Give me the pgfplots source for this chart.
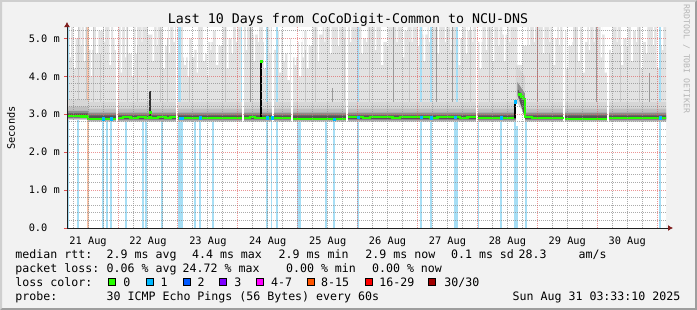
\documentclass[border=0pt]{standalone}
\usepackage{pgfplots}
\pgfplotsset{compat=1.18}
\usepackage{pgfplotstable}
\usepackage{fontspec}
\setmainfont{DejaVu Sans Mono}
\usetikzlibrary{arrows.meta}
\definecolor{bgc}{HTML}{F2F2F2}
\definecolor{shadeA}{HTML}{CFCFCF}
\definecolor{shadeB}{HTML}{9E9E9E}
\definecolor{gridc}{HTML}{8F8F8F}
\definecolor{mgridc}{HTML}{DE4F4F}
\definecolor{arrowc}{HTML}{801F1F}
\definecolor{axisc}{HTML}{1F1F1F}
\definecolor{smokeL}{HTML}{E2E2E2}
\definecolor{smokeT}{HTML}{C8C8C8}
\definecolor{smokeD}{HTML}{9A9A9A}
\definecolor{band1}{HTML}{D6D6D6}
\definecolor{band2}{HTML}{BEBEBE}
\definecolor{band3}{HTML}{8E8E8E}
\definecolor{band4}{HTML}{555555}
\definecolor{lossline}{HTML}{A6DEF5}
\definecolor{orangeline}{HTML}{F9C3A8}
\definecolor{l0}{HTML}{26FF00}
\definecolor{l1}{HTML}{00B8FF}
\definecolor{l2}{HTML}{0059FF}
\definecolor{l3}{HTML}{7E00FF}
\definecolor{l4}{HTML}{FF00FF}
\definecolor{l8}{HTML}{FF5500}
\definecolor{l16}{HTML}{FF0000}
\definecolor{l30}{HTML}{A10000}
\definecolor{wm}{HTML}{B5B5B5}
\newcommand\legfont{\fontsize{11.6}{14}\selectfont}
\newcommand\tickfont{\fontsize{10.3}{12}\selectfont}
\newcommand\titfont{\fontsize{13.3}{16}\selectfont}

% light smoke: hours since 21 Aug 00:00, top of smoke (s)
\pgfplotstableread{
x y
2 2.95
2 5.35
4 5.35
6 5.0
8 5.35
10 5.35
12 4.7
14 5.35
16 5.2
18 5.35
20 5.35
22 5.0
24 5.35
26 5.35
28 4.6
30 5.35
32 5.35
34 5.35
36 5.1
38 5.35
40 5.35
42 4.8
44 5.35
46 5.3
48 5.35
50 4.5
52 5.0
54 4.7
56 5.35
58 4.6
60 4.9
62 5.2
64 4.8
66 5.35
68 5.0
70 5.35
72 5.35
74 5.35
76 5.35
78 5.1
80 5.35
82 4.9
84 5.3
86 4.7
88 5.2
90 4.6
92 5.0
94 4.5
96 4.9
98 5.2
100 4.8
102 5.35
104 5.1
106 5.35
108 5.35
110 5.35
112 5.35
114 5.35
116 5.3
118 5.35
120 5.35
122 5.0
124 5.35
126 5.35
128 5.35
130 4.9
132 5.35
134 5.35
136 5.35
138 5.2
140 5.35
142 5.35
144 5.35
146 5.1
148 5.35
150 5.35
152 5.3
154 5.35
156 5.35
158 5.35
160 5.0
162 5.35
164 5.2
166 5.35
168 4.9
170 5.35
172 5.35
174 5.3
176 5.35
178 5.1
180 5.35
182 5.35
184 4.3
186 4.8
188 5.35
190 5.35
192 5.35
194 5.35
196 5.35
198 5.0
200 5.35
202 5.2
204 4.8
206 5.35
208 5.3
210 4.9
212 5.35
214 5.35
216 5.35
218 5.1
220 4.7
222 5.35
224 5.35
226 5.0
228 5.35
230 5.2
232 5.35
234 4.9
236 5.35
238 5.35
240 4.8
242 5.35
244 5.35
244 2.95
}\smoke

% white streaks in the smoke: path along the top, dipping down to the streak bottom
\pgfplotstableread{
x y
3.55 5.4
4.6 5.4
4.6 4.5
5.1 4.5
5.1 5.4
6.2 5.4
6.2 4.2
7.0 4.2
7.0 5.4
9.0 5.4
9.0 4.8
9.4 4.8
9.4 5.4
10.3 5.4
10.3 4.4
10.9 4.4
10.9 5.4
13.0 5.4
13.0 4.0
13.5 4.0
13.5 5.4
15.2 5.4
15.2 4.6
16.1 4.6
16.1 5.4
18.4 5.4
18.4 4.9
18.8 4.9
18.8 5.4
20.5 5.4
20.5 4.3
21.2 4.3
21.2 5.4
22.6 5.4
22.6 4.7
23.1 4.7
23.1 5.4
25.0 5.4
25.0 4.1
25.6 4.1
25.6 5.4
26.8 5.4
26.8 4.5
27.2 4.5
27.2 5.4
29.5 5.4
29.5 4.0
30.3 4.0
30.3 5.4
31.0 5.4
31.0 4.6
31.5 4.6
31.5 5.4
33.4 5.4
33.4 4.9
33.8 4.9
33.8 5.4
37.8 5.4
37.8 4.4
38.5 4.4
38.5 5.4
39.5 5.4
39.5 4.8
39.9 4.8
39.9 5.4
42.0 5.4
42.0 4.2
42.9 4.2
42.9 5.4
44.4 5.4
44.4 4.6
44.9 4.6
44.9 5.4
46.2 5.4
46.2 4.9
46.8 4.9
46.8 5.4
50.4 5.4
50.4 4.3
51.2 4.3
51.2 5.4
51.9 5.4
51.9 4.0
52.4 4.0
52.4 5.4
53.6 5.4
53.6 4.5
54.6 4.5
54.6 5.4
55.5 5.4
55.5 4.1
56.0 4.1
56.0 5.4
58.0 5.4
58.0 4.4
58.9 4.4
58.9 5.4
59.6 5.4
59.6 4.0
60.2 4.0
60.2 5.4
61.0 5.4
61.0 4.7
61.4 4.7
61.4 5.4
63.2 5.4
63.2 4.3
64.2 4.3
64.2 5.4
65.3 5.4
65.3 4.8
65.8 4.8
65.8 5.4
67.5 5.4
67.5 4.2
68.3 4.2
68.3 5.4
69.5 5.4
69.5 4.6
70.0 4.6
70.0 5.4
71.2 5.4
71.2 4.9
71.8 4.9
71.8 5.4
75.2 5.4
75.2 4.7
75.7 4.7
75.7 5.4
78.3 5.4
78.3 4.4
78.9 4.4
78.9 5.4
80.0 5.4
80.0 4.9
80.4 4.9
80.4 5.4
82.4 5.4
82.4 4.2
83.2 4.2
83.2 5.4
84.6 5.4
84.6 4.6
85.1 4.6
85.1 5.4
88.5 5.4
88.5 4.1
89.4 4.1
89.4 5.4
90.2 5.4
90.2 4.4
90.8 4.4
90.8 5.4
91.8 5.4
91.8 3.9
92.8 3.9
92.8 5.4
94.8 5.4
94.8 4.3
95.4 4.3
95.4 5.4
96.6 5.4
96.6 4.0
97.5 4.0
97.5 5.4
98.0 5.4
98.0 4.5
98.5 4.5
98.5 5.4
99.6 5.4
99.6 4.2
100.4 4.2
100.4 5.4
101.4 5.4
101.4 4.8
101.9 4.8
101.9 5.4
104.0 5.4
104.0 4.4
104.6 4.4
104.6 5.4
106.7 5.4
106.7 4.9
107.1 4.9
107.1 5.4
109.0 5.4
109.0 4.6
109.6 4.6
109.6 5.4
112.2 5.4
112.2 4.8
112.6 4.8
112.6 5.4
117.0 5.4
117.0 4.9
117.5 4.9
117.5 5.4
121.5 5.4
121.5 4.6
122.1 4.6
122.1 5.4
123.4 5.4
123.4 4.9
123.8 4.9
123.8 5.4
127.0 5.4
127.0 4.7
127.5 4.7
127.5 5.4
129.4 5.4
129.4 4.3
130.3 4.3
130.3 5.4
131.8 5.4
131.8 4.8
132.2 4.8
132.2 5.4
135.5 5.4
135.5 4.9
136.0 4.9
136.0 5.4
138.0 5.4
138.0 4.5
138.7 4.5
138.7 5.4
141.6 5.4
141.6 4.9
142.0 4.9
142.0 5.4
144.2 5.4
144.2 4.8
144.7 4.8
144.7 5.4
146.3 5.4
146.3 4.4
147.1 4.4
147.1 5.4
148.5 5.4
148.5 4.9
148.9 4.9
148.9 5.4
152.0 5.4
152.0 4.6
152.6 4.6
152.6 5.4
155.0 5.4
155.0 4.9
155.4 4.9
155.4 5.4
157.2 5.4
157.2 4.7
157.7 4.7
157.7 5.4
160.4 5.4
160.4 4.3
161.2 4.3
161.2 5.4
163.4 5.4
163.4 4.6
164.0 4.6
164.0 5.4
166.0 5.4
166.0 4.9
166.4 4.9
166.4 5.4
168.8 5.4
168.8 4.2
169.7 4.2
169.7 5.4
171.4 5.4
171.4 4.7
171.9 4.7
171.9 5.4
174.0 5.4
174.0 4.4
174.8 4.4
174.8 5.4
176.4 5.4
176.4 4.8
176.9 4.8
176.9 5.4
178.6 5.4
178.6 4.4
179.3 4.4
179.3 5.4
180.8 5.4
180.8 4.9
181.2 4.9
181.2 5.4
188.6 5.4
188.6 4.8
189.1 4.8
189.1 5.4
190.6 5.4
190.6 4.9
191.0 4.9
191.0 5.4
194.2 5.4
194.2 4.6
194.8 4.6
194.8 5.4
196.8 5.4
196.8 4.9
197.2 4.9
197.2 5.4
198.4 5.4
198.4 4.3
199.2 4.3
199.2 5.4
200.6 5.4
200.6 4.8
201.1 4.8
201.1 5.4
203.6 5.4
203.6 4.2
204.4 4.2
204.4 5.4
205.8 5.4
205.8 4.9
206.2 4.9
206.2 5.4
208.3 5.4
208.3 4.4
209.0 4.4
209.0 5.4
210.0 5.4
210.0 4.1
211.0 4.1
211.0 5.4
212.6 5.4
212.6 4.7
213.1 4.7
213.1 5.4
214.6 5.4
214.6 4.9
215.0 4.9
215.0 5.4
217.4 5.4
217.4 4.5
218.0 4.5
218.0 5.4
219.0 5.4
219.0 4.1
219.9 4.1
219.9 5.4
221.6 5.4
221.6 4.6
222.1 4.6
222.1 5.4
223.8 5.4
223.8 4.9
224.2 4.9
224.2 5.4
225.6 5.4
225.6 4.3
226.5 4.3
226.5 5.4
227.8 5.4
227.8 4.8
228.3 4.8
228.3 5.4
229.6 5.4
229.6 4.4
230.3 4.4
230.3 5.4
231.6 5.4
231.6 4.9
232.0 4.9
232.0 5.4
233.6 5.4
233.6 4.2
234.4 4.2
234.4 5.4
235.6 5.4
235.6 4.6
236.1 4.6
236.1 5.4
238.4 5.4
238.4 4.8
238.8 4.8
238.8 5.4
239.8 5.4
239.8 4.2
240.7 4.2
240.7 5.4
242.0 5.4
242.0 4.7
242.5 4.7
242.5 5.4
244 5.4
}\streaks

% median rtt (s)
\pgfplotstableread{
x y
3.55 2.95
6 2.95
9 2.94
12 2.88
14 2.87
17 2.88
19 2.87
21 2.88
23.3 2.88
23.6 nan
23.9 2.91
26 2.92
29 2.91
32 2.92
35 2.91
36.5 2.93
37.2 2.91
40 2.92
43 2.91
45 2.92
47.3 2.92
47.6 nan
47.9 2.90
51 2.91
54 2.90
57 2.91
60 2.90
63 2.91
66 2.90
69 2.91
71 2.90
73.8 2.90
74.1 nan
74.4 2.91
77 2.92
79 2.91
81 2.90
83 2.91
85.8 2.91
86.1 nan
86.4 2.90
89 2.91
91 2.90
93.4 2.90
93.7 nan
94 2.88
97 2.87
100 2.88
103 2.87
106 2.88
109 2.87
112 2.88
115.4 2.88
115.7 nan
116 2.92
119 2.92
122 2.91
125 2.92
128 2.93
131 2.92
134 2.91
137 2.93
140 2.92
143 2.93
146 2.92
149 2.91
152 2.92
155 2.93
158 2.92
161 2.91
164 2.92
167.5 2.92
167.8 nan
168.1 2.90
171 2.91
174 2.90
177 2.91
180 2.90
182.8 2.90
183.2 nan
184.4 3.52
185.6 3.47
186.4 3.40
187.0 2.92
190 2.90
193 2.91
196 2.90
199 2.91
202.4 2.90
202.7 nan
203 2.88
206 2.87
209 2.88
212 2.87
215 2.88
218 2.88
220 2.88
220.3 nan
220.6 2.90
223 2.91
226 2.90
229 2.91
232 2.90
235 2.91
238 2.90
241 2.91
243.55 2.90
}\median

\begin{document}
\begin{tikzpicture}
\fill[bgc] (0pt,0pt) rectangle (697pt,-310pt);
\fill[shadeA] (0pt,0pt) -- (697pt,0pt) -- (695pt,-2pt) -- (2pt,-2pt) -- (2pt,-308pt) -- (0pt,-310pt) -- cycle;
\fill[shadeB] (697pt,0pt) -- (697pt,-310pt) -- (0pt,-310pt) -- (2pt,-308pt) -- (695pt,-308pt) -- (695pt,-2pt) -- cycle;
\begin{axis}[
  at={(67pt,-228pt)}, anchor=south west,
  scale only axis, width=599pt, height=201pt,
  xmin=3.55, xmax=243.55, ymin=0, ymax=5.3,
  axis background/.style={fill=white},
  axis on top, unbounded coords=jump,
  axis x line*=bottom, axis y line*=left,
  x axis line style={color=axisc, line width=1pt, -{Latex[length=5pt,width=6pt,color=arrowc,fill=arrowc]}, shorten >=-7pt},
  y axis line style={color=axisc, line width=1pt, -{Latex[length=5pt,width=6pt,color=arrowc,fill=arrowc]}, shorten >=-5pt},
  xtick={12,36,60,84,108,132,156,180,204,228},
  xticklabels={21 Aug,22 Aug,23 Aug,24 Aug,25 Aug,26 Aug,27 Aug,28 Aug,29 Aug,30 Aug},
  xmajorgrids=false, xminorgrids=true,
  minor xtick={6,12,18,30,36,42,54,60,66,78,84,90,102,108,114,126,132,138,150,156,162,174,180,186,198,204,210,222,228,234},
  extra x ticks={24,48,72,96,120,144,168,192,216,240},
  extra x tick labels={},
  extra x tick style={grid=major},
  ytick={0,1,2,3,4,5},
  yticklabels={0.0\phantom{\ m},1.0 m,2.0 m,3.0 m,4.0 m,5.0 m},
  minor ytick={0.2,0.4,0.6,0.8,1.2,1.4,1.6,1.8,2.2,2.4,2.6,2.8,3.2,3.4,3.6,3.8,4.2,4.4,4.6,4.8,5.2},
  ymajorgrids=true, yminorgrids=true,
  minor grid style={draw=gridc, draw opacity=0.75, line width=1pt, dash pattern=on 1pt off 1pt},
  major grid style={draw=mgridc, draw opacity=0.6, line width=1pt, dash pattern=on 1pt off 1pt},
  xtick style={draw=none},
  ytick style={draw=mgridc, line width=1pt},
  major tick length=3pt, minor tick length=0pt, tick align=outside,
  xticklabel style={font=\tickfont, inner sep=0pt, anchor=north, yshift=-6pt},
  yticklabel style={font=\tickfont, inner sep=0pt, anchor=east, xshift=-4pt},
]
% light smoke
\addplot[const plot mark left, fill=smokeL, draw=none] table {\smoke};
\addplot[fill=white, draw=none] table {\streaks};
% loss lines visible through the smoke
\addplot[ycomb, draw=lossline, line width=1.3pt] coordinates {
 (3.9,5.3)(48.02,5.3)(48.82,5.3)(73.66,5.3)(83.68,5.3)(87.68,5.3)(120.14,5.3)
 (145.38,5.3)(149.39,5.3)(159.8,5.3)(241.13,5.3)};
\addplot[ycomb, draw=orangeline, line width=1.3pt] coordinates {(11.96,5.3)};
% smoke texture lines
\addplot[ycomb, draw=smokeT, line width=0.9pt] coordinates {
 (7.96,5.3)(11.2,5.3)(13.97,5.3)(16.77,4.6)(27.59,5.3)(31.6,4.8)(40.8,5.3)
 (43.6,5.0)(52.8,4.4)(66.85,5.3)(98.9,4.7)(102.9,5.3)(114.9,5.0)(124.9,5.3)
 (140.9,4.9)(165.0,5.3)(173.0,5.3)(197.0,4.6)(207.1,5.3)(225.1,4.8)(233.1,5.3)};
\addplot[ycomb, draw=smokeD, line width=1pt] coordinates {
 (76.9,5.3)(110.1,3.7)(134.2,5.3)(151.4,5.3)(158.2,5.3)(191.9,5.3)(215.9,5.3)(237.1,4.1)};
% clear the region below the smoke
\addplot[fill=white, draw=none] coordinates {(0,0)(0,2.9)(250,2.9)(250,0)};
% loss lines (lower part)
\addplot[ycomb, draw=lossline, line width=1.3pt] coordinates {
 (3.9,2.85)(7.96,2.85)(17.97,2.85)(19.57,2.85)(21.18,2.85)(27.19,2.85)(34.0,2.85)
 (35.2,2.85)(41.61,2.85)(48.02,2.85)(48.42,2.85)(48.82,2.85)(49.22,2.85)(49.62,2.85)
 (54.83,2.85)(56.84,2.85)
 (62.04,2.85)(83.68,2.85)(85.68,2.85)(87.68,2.85)(96.10,2.85)(96.90,2.85)(107.32,2.85)
 (110.52,2.85)(120.14,2.85)(145.38,2.85)(149.39,2.85)(159.0,2.85)(159.4,2.85)(159.8,2.85)
 (168.21,2.85)(177.43,2.85)(183.04,2.85)(183.44,2.85)(183.84,2.85)(187.45,2.85)(241.13,2.85)};
\addplot[ycomb, draw=orangeline, line width=1.3pt] coordinates {(11.96,2.85)};
% dense band around the median
\addplot[fill=band1, draw=none] coordinates {(0,3.37)(12,3.37)(12,3.32)(250,3.32)(250,2.80)(12,2.80)(12,2.85)(0,2.85)};
\addplot[fill=band2, draw=none] coordinates {(0,3.20)(12,3.20)(12,3.15)(250,3.15)(250,2.82)(12,2.82)(12,2.87)(0,2.87)};
\addplot[fill=band3, draw=none] coordinates {(0,3.09)(12,3.09)(12,3.04)(250,3.04)(250,2.84)(12,2.84)(12,2.89)(0,2.89)};
\addplot[fill=band4, draw=none] coordinates {(0,3.02)(12,3.02)(12,2.97)(250,2.97)(250,2.87)(12,2.87)(12,2.92)(0,2.92)};
% 28 Aug excursion
\addplot[fill=white, draw=none] coordinates {(183.4,2.7)(183.4,3.35)(187.0,3.35)(187.0,2.7)};
\addplot[fill=band1, draw=none] coordinates {(183.4,3.35)(183.4,4.3)(187.0,4.0)(187.0,3.0)};
\addplot[fill=band3, draw=none] coordinates {(184.0,3.5)(184.0,3.85)(187.0,3.55)(187.0,2.95)};
\addplot[fill=band4, draw=none] coordinates {(184.2,3.5)(184.2,3.65)(186.8,3.45)(186.8,2.95)};
% gaps without data
\addplot[ycomb, draw=white, line width=1.6pt] coordinates {
 (23.58,5.3)(47.62,5.3)(74.06,5.3)(86.08,5.3)(93.70,5.3)(115.73,5.3)(167.81,5.3)(202.67,5.3)(220.3,5.3)};
% dark spikes
\addplot[fill=black!80, draw=none] coordinates {(36.55,2.9)(36.55,3.6)(37.05,3.6)(37.05,2.9)};
\addplot[fill=black, draw=none] coordinates {(80.85,2.9)(80.85,4.4)(81.7,4.4)(81.7,2.9)};
\addplot[fill=black, draw=none] coordinates {(182.6,2.9)(182.6,3.35)(183.3,3.35)(183.3,2.9)};
% median rtt
\addplot[const plot mark left, draw=l0, line width=2.2pt] table {\median};
\addplot[only marks, mark=square*, mark size=1.1pt, color=l0] coordinates {(81.27,4.40)(36.8,3.05)};
\addplot[only marks, mark=square*, mark size=1.1pt, color=l1] coordinates {
 (17.97,2.88)(21.18,2.88)(48.82,2.90)(49.62,2.90)(56.84,2.91)(83.68,2.91)(85.68,2.91)
 (110.52,2.87)(120.14,2.92)(145.38,2.92)(149.39,2.91)(159.0,2.92)(177.43,2.91)(183.04,3.33)(241.13,2.91)};
\end{axis}
\begin{scope}[x=1pt,y=-1pt]
\node[font=\titfont, anchor=base, inner sep=0pt] at (348,24) {Last 10 Days from CoCoDigit-Common to NCU-DNS};
\node[font=\tickfont, rotate=90, inner sep=0pt] at (11,128) {Seconds};
\node[font=\fontsize{8.2}{10}\selectfont, text=wm, rotate=-90, inner sep=0pt] at (686.5,59) {RRDTOOL / TOBI OETIKER};
\begin{scope}[every node/.style={font=\legfont, anchor=base west, inner sep=0pt}]
\node at (15.3,258.3) {median rtt:};
\node at (106.5,258.3) {2.9 ms avg};
\node at (191.9,258.3) {4.4 ms max};
\node at (278.5,258.3) {2.9 ms min};
\node at (365.2,258.3) {2.9 ms now};
\node at (450.9,258.3) {0.1 ms sd};
\node at (518.5,258.3) {28.3};
\node at (578.5,258.3) {am/s};
\node at (15.3,272.3) {packet loss:};
\node at (106.5,272.3) {0.06 \% avg};
\node at (182.5,272.3) {24.72 \% max};
\node at (285.9,272.3) {0.00 \% min};
\node at (371.9,272.3) {0.00 \% now};
\node at (15.3,286.5) {loss color:};
\node at (123.2,286.5) {0};
\node at (160.5,286.5) {1};
\node at (197.5,286.5) {2};
\node at (234.2,286.5) {3};
\node at (270.9,286.5) {4-7};
\node at (320.9,286.5) {8-15};
\node at (379.2,286.5) {16-29};
\node at (444.2,286.5) {30/30};
\node at (15.3,300.3) {probe:};
\node at (106.5,300.3) {30 ICMP Echo Pings (56 Bytes) every 60s};
\node at (512.5,300.3) {Sun Aug 31 03:33:10 2025};
\end{scope}
\foreach \sx/\sc in {108.7/l0,146.1/l1,183.1/l2,219.7/l3,256.4/l4,307.1/l8,365.4/l16,428.7/l30}{
  \draw[fill=\sc, line width=0.8pt] (\sx,278.3) rectangle ++(7,7);
}
\end{scope}
\pgfresetboundingbox
\path (0pt,0pt) rectangle (697pt,-310pt);
\end{tikzpicture}
\end{document}
